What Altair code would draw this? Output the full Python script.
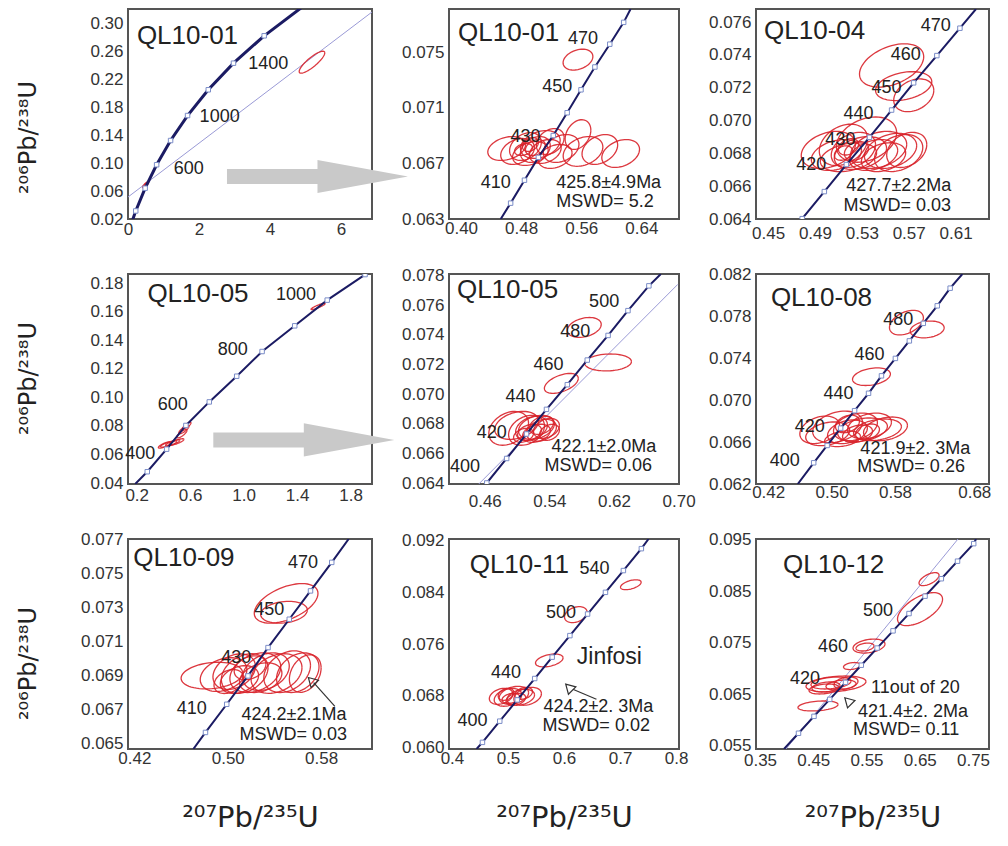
import numpy as np
import pandas as pd
import altair as alt

FONT = "Liberation Sans"
TITLE_FONT = "DejaVu Sans"
RED = "#d8222a"
NAVY = "#1b1b63"
MARKER = "#7b8dc8"
TXT = "#222222"
ENVC = "#9a9ad6"
ARROWC = "#c9c9c9"

X_TITLE = "²⁰⁷Pb/²³⁵U"
Y_TITLE = "²⁰⁶Pb/²³⁸U"

# ---------------- Panel 1 : QL10-01 (full range) ----------------
P1_XDOM = [0.0, 6.87]
P1_YDOM = [0.02, 0.32]
P1_XT = [0, 2, 4, 6]
P1_YT = [0.02, 0.06, 0.10, 0.14, 0.18, 0.22, 0.26, 0.30]
P1_AGE = [200, 400, 600, 800, 1000, 1200, 1400, 1600]
P1_CX = [0.218, 0.483, 0.806, 1.199, 1.677, 2.260, 2.970, 3.834]
P1_CY = [0.0315, 0.0640, 0.0975, 0.1321, 0.1678, 0.2046, 0.2426, 0.2817]
P1_START = (0.0, 0.0)
P1_END = (4.887, 0.3221)
P1_ENV = [(0.0, 0.0514), (6.87, 0.3157)]
P1_ELL = [(5.18, 0.244, 0.36, 0.0157, 0.85),
          (0.47, 0.068, 0.06, 0.0035, 0.8),
          (0.52, 0.070, 0.06, 0.0035, 0.8)]
P1_LAB = [("1400", 3.95, 0.2414), ("1000", 2.58, 0.1657), ("600", 1.71, 0.0914)]
P1_NAME = ("QL10-01", 0.25, 0.2814)
P1_RES = []
P1_ARROW = (5.335, 0.0807)

# ---------------- Panel 2 : QL10-01 (zoom) ----------------
P2_XDOM = [0.384, 0.690]
P2_YDOM = [0.063, 0.0781]
P2_XT = [0.40, 0.48, 0.56, 0.64]
P2_YT = [0.063, 0.067, 0.071, 0.075]
P2_AGE = [400, 410, 420, 430, 440, 450, 460, 470, 480]
P2_CX = [0.4660, 0.4844, 0.5029, 0.5227, 0.5412, 0.5596, 0.5781, 0.5979, 0.6164]
P2_CY = [0.06414, 0.06579, 0.06743, 0.06900, 0.07064, 0.07229, 0.07393, 0.07557, 0.07714]
P2_START = (0.4528, 0.063)
P2_END = (0.6256, 0.0781)
P2_ENV = []
P2_ELL = [(0.4607, 0.06807, 0.0251, 0.00086, 0.3), (0.4752, 0.06786, 0.0224, 0.00093, 0.3),
          (0.4857, 0.06821, 0.0211, 0.0010, 0.3), (0.4923, 0.06771, 0.0237, 0.00086, 0.3),
          (0.4989, 0.0680, 0.0198, 0.00093, 0.3), (0.5055, 0.06836, 0.0264, 0.0010, 0.3),
          (0.5121, 0.06786, 0.0211, 0.00086, 0.3), (0.5187, 0.06857, 0.0185, 0.00093, 0.3),
          (0.5253, 0.0675, 0.0224, 0.00086, 0.3), (0.5332, 0.06807, 0.0237, 0.0010, 0.3),
          (0.5556, 0.06907, 0.0171, 0.00107, 0.3), (0.5623, 0.06786, 0.0264, 0.00107, 0.3),
          (0.5847, 0.0680, 0.0237, 0.00107, 0.3), (0.6124, 0.06771, 0.0251, 0.0010, 0.3),
          (0.4923, 0.06836, 0.0106, 0.0005, 0.3), (0.4989, 0.06814, 0.0132, 0.00057, 0.3),
          (0.4831, 0.0680, 0.0119, 0.00043, 0.3), (0.5556, 0.07446, 0.0198, 0.00075, 0.3)]
P2_LAB = [("470", 0.5623, 0.07593), ("450", 0.528, 0.0725), ("430", 0.4858, 0.06893), ("410", 0.4462, 0.06557)]
P2_NAME = ("QL10-01", 0.396, 0.07636)
P2_RES = [("425.8±4.9Ma", 0.5266, 0.06560), ("MSWD= 5.2", 0.5266, 0.06425)]

# ---------------- Panel 3 : QL10-04 ----------------
P3_XDOM = [0.4397, 0.6385]
P3_YDOM = [0.064, 0.0768]
P3_XT = [0.45, 0.49, 0.53, 0.57, 0.61]
P3_YT = [0.064, 0.066, 0.068, 0.070, 0.072, 0.074, 0.076]
P3_AGE = [400, 410, 420, 430, 440, 450, 460, 470]
P3_CX = [0.4791, 0.4980, 0.5168, 0.5365, 0.5554, 0.5742, 0.5940, 0.6137]
P3_CY = [0.06402, 0.06567, 0.06732, 0.06898, 0.07064, 0.07230, 0.07396, 0.07563]
P3_START = (0.4783, 0.064)
P3_END = (0.6274, 0.0768)
P3_ENV = []
P3_ELL = [(0.5014, 0.06821, 0.0231, 0.00113, 0.3), (0.5083, 0.0679, 0.0214, 0.00094, 0.3),
          (0.5143, 0.06852, 0.0206, 0.00126, 0.3), (0.5186, 0.06777, 0.0240, 0.00088, 0.3),
          (0.5228, 0.06821, 0.0189, 0.00107, 0.3), (0.5288, 0.06802, 0.0223, 0.0010, 0.3),
          (0.5340, 0.06884, 0.0257, 0.00138, 0.3), (0.5400, 0.0679, 0.0206, 0.00094, 0.3),
          (0.5443, 0.06821, 0.024, 0.00113, 0.3), (0.5485, 0.06777, 0.0189, 0.00088, 0.3),
          (0.5545, 0.06815, 0.0223, 0.00107, 0.3), (0.5614, 0.06802, 0.0206, 0.00113, 0.3),
          (0.5683, 0.06821, 0.0171, 0.00107, 0.3), (0.5186, 0.0684, 0.0086, 0.0005, 0.3),
          (0.5254, 0.06815, 0.0103, 0.00057, 0.3), (0.5143, 0.06802, 0.0077, 0.00044, 0.3),
          (0.5554, 0.07336, 0.0274, 0.00132, 0.4), (0.5657, 0.0721, 0.024, 0.00088, 0.3),
          (0.5743, 0.07154, 0.0171, 0.001, 0.3)]
P3_LAB = [("470", 0.5931, 0.07575), ("460", 0.5674, 0.07399), ("450", 0.5511, 0.07198),
          ("440", 0.5271, 0.07041), ("430", 0.5117, 0.06884), ("420", 0.4868, 0.06727)]
P3_NAME = ("QL10-04", 0.4466, 0.07543)
P3_RES = [("427.7±2.2Ma", 0.5168, 0.06600), ("MSWD= 0.03", 0.5143, 0.06482)]

# ---------------- Panel 4 : QL10-05 (full range) ----------------
P4_XDOM = [0.135, 1.96]
P4_YDOM = [0.0393, 0.1864]
P4_XT = [0.2, 0.6, 1.0, 1.4, 1.8]
P4_YT = [0.04, 0.06, 0.08, 0.10, 0.12, 0.14, 0.16, 0.18]
P4_AGE = [300, 400, 500, 600, 700, 800, 900, 1000, 1100]
P4_CX = [0.279, 0.424, 0.568, 0.743, 0.948, 1.138, 1.382, 1.625, 1.908]
P4_CY = [0.0479, 0.0637, 0.0803, 0.0968, 0.1148, 0.1321, 0.1501, 0.1681, 0.1860]
P4_START = (0.189, 0.0393)
P4_END = (1.93, 0.1870)
P4_ENV = []
P4_ELL = [(0.439, 0.0673, 0.061, 0.0022, 0.8), (0.469, 0.0681, 0.053, 0.0022, 0.8),
          (0.408, 0.0666, 0.046, 0.0022, 0.8), (0.500, 0.0688, 0.053, 0.0022, 0.8),
          (0.553, 0.0774, 0.038, 0.0029, 0.8), (0.538, 0.0745, 0.038, 0.0029, 0.8),
          (0.576, 0.0803, 0.030, 0.0022, 0.8), (1.557, 0.1637, 0.053, 0.0022, 0.9)]
P4_LAB = [("1000", 1.392, 0.1717), ("800", 0.918, 0.1335), ("600", 0.469, 0.0947), ("400", 0.226, 0.0601)]
P4_NAME = ("QL10-05", 0.280, 0.1724)
P4_RES = []
P4_ARROW = (1.450, 0.0702)

# ---------------- Panel 5 : QL10-05 (zoom) ----------------
P5_XDOM = [0.4157, 0.7005]
P5_YDOM = [0.06395, 0.0781]
P5_XT = [0.46, 0.54, 0.62, 0.70]
P5_YT = [0.064, 0.066, 0.068, 0.070, 0.072, 0.074, 0.076, 0.078]
P5_AGE = [400, 410, 420, 430, 440, 450, 460, 470, 480]
P5_CX = [0.4625, 0.4871, 0.5117, 0.5364, 0.5622, 0.5869, 0.6127, 0.6373, 0.6632]
P5_CY = [0.06402, 0.06567, 0.06732, 0.06898, 0.07064, 0.0723, 0.07396, 0.07563, 0.0773]
P5_START = (0.4610, 0.06395)
P5_END = (0.678, 0.0781)
P5_ENV = [(0.4526, 0.06395), (0.699, 0.0774)]
P5_ELL = [(0.6127, 0.07214, 0.0289, 0.00057, 0.1), (0.5832, 0.0745, 0.021, 0.00067, 0.3),
          (0.5548, 0.07073, 0.021, 0.00067, 0.5), (0.4896, 0.0677, 0.0246, 0.00114, 0.3),
          (0.4994, 0.0679, 0.0271, 0.00094, 0.3), (0.5117, 0.06757, 0.0222, 0.00101, 0.3),
          (0.5179, 0.0677, 0.0197, 0.00081, 0.3), (0.5240, 0.06777, 0.0222, 0.00081, 0.3),
          (0.5302, 0.06757, 0.0185, 0.00074, 0.3), (0.5364, 0.0677, 0.016, 0.00067, 0.3),
          (0.5240, 0.06737, 0.0172, 0.00061, 0.3), (0.5154, 0.06743, 0.0148, 0.00054, 0.3),
          (0.5080, 0.06723, 0.0123, 0.00047, 0.3), (0.5302, 0.0679, 0.0148, 0.00061, 0.3),
          (0.5401, 0.06743, 0.0123, 0.00054, 0.3)]
P5_LAB = [("500", 0.6078, 0.07618), ("480", 0.5721, 0.07416), ("460", 0.5388, 0.07194),
          ("440", 0.5043, 0.06979), ("420", 0.4686, 0.06737), ("400", 0.4354, 0.06508)]
P5_NAME = ("QL10-05", 0.4255, 0.07699)
P5_RES = [("422.1±2.0Ma", 0.5425, 0.06645), ("MSWD= 0.06", 0.5339, 0.06518)]

# ---------------- Panel 6 : QL10-08 ----------------
P6_XDOM = [0.4046, 0.6986]
P6_YDOM = [0.0620, 0.0820]
P6_XT = [0.42, 0.50, 0.58, 0.68]
P6_YT = [0.062, 0.066, 0.070, 0.074, 0.078, 0.082]
P6_AGE = [400, 410, 420, 430, 440, 450, 460, 470, 480, 490, 500]
P6_CX = [0.4774, 0.4944, 0.5114, 0.5290, 0.5466, 0.5629, 0.5805, 0.5981, 0.6157, 0.6333, 0.6496]
P6_CY = [0.06402, 0.06567, 0.06732, 0.06898, 0.07064, 0.0723, 0.07396, 0.07563, 0.0773, 0.07897, 0.08065]
P6_START = (0.4573, 0.0620)
P6_END = (0.665, 0.0820)
P6_ENV = []
P6_ELL = [(0.5944, 0.07737, 0.0214, 0.00117, 0.4), (0.6206, 0.07672, 0.0214, 0.0008, 0.2),
          (0.5503, 0.07222, 0.0239, 0.00084, 0.3), (0.4850, 0.06716, 0.0251, 0.00131, 0.3),
          (0.4950, 0.06678, 0.0277, 0.00113, 0.3), (0.5075, 0.06744, 0.0314, 0.0015, 0.3),
          (0.5200, 0.06697, 0.0251, 0.00113, 0.3), (0.5301, 0.06744, 0.0277, 0.00131, 0.3),
          (0.5390, 0.06716, 0.0314, 0.00113, 0.3), (0.5478, 0.06753, 0.0277, 0.00122, 0.3),
          (0.5579, 0.06716, 0.0302, 0.00103, 0.3), (0.5680, 0.06725, 0.0277, 0.00113, 0.3),
          (0.5138, 0.06631, 0.0226, 0.00075, 0.3), (0.5327, 0.06678, 0.0189, 0.00084, 0.3),
          (0.5200, 0.06772, 0.0151, 0.00084, 0.3), (0.5453, 0.06697, 0.0151, 0.00075, 0.3)]
P6_LAB = [("480", 0.5842, 0.07766), ("460", 0.5478, 0.07428), ("440", 0.5088, 0.07053),
          ("420", 0.4724, 0.06744), ("400", 0.4410, 0.06416)]
P6_NAME = ("QL10-08", 0.4234, 0.07972)
P6_RES = [("421.9±2. 3Ma", 0.5363, 0.06535), ("MSWD= 0.26", 0.5325, 0.06362)]

# ---------------- Panel 7 : QL10-09 ----------------
P7_XDOM = [0.4145, 0.6236]
P7_YDOM = [0.0647, 0.0770]
P7_XT = [0.42, 0.50, 0.58]
P7_YT = [0.065, 0.067, 0.069, 0.071, 0.073, 0.075, 0.077]
P7_AGE = [410, 420, 430, 440, 450, 460, 470]
P7_CX = [0.4809, 0.4991, 0.5173, 0.5345, 0.5527, 0.5709, 0.5891]
P7_CY = [0.06567, 0.06732, 0.06898, 0.07064, 0.0723, 0.07396, 0.07563]
P7_START = (0.4705, 0.0647)
P7_END = (0.6036, 0.0770)
P7_ENV = []
P7_ELL = [(0.5500, 0.07323, 0.0273, 0.00116, 0.5), (0.5482, 0.07271, 0.02, 0.00064, 0.2),
          (0.4864, 0.069, 0.0264, 0.00078, 0.2), (0.4964, 0.06906, 0.02, 0.00099, 0.3),
          (0.5055, 0.06923, 0.0182, 0.00104, 0.3), (0.5145, 0.06912, 0.02, 0.00116, 0.3),
          (0.5236, 0.06917, 0.0218, 0.00116, 0.3), (0.5327, 0.06923, 0.02, 0.0011, 0.3),
          (0.5418, 0.06912, 0.0218, 0.00116, 0.3), (0.5509, 0.06923, 0.02, 0.00122, 0.3),
          (0.5600, 0.06917, 0.0182, 0.00116, 0.3), (0.5664, 0.06912, 0.0136, 0.0011, 0.3),
          (0.5100, 0.06877, 0.0164, 0.00081, 0.3), (0.5282, 0.06888, 0.0182, 0.00087, 0.3),
          (0.5191, 0.06946, 0.0136, 0.0007, 0.3), (0.5009, 0.06865, 0.0127, 0.0007, 0.3)]
P7_LAB = [("470", 0.5645, 0.07561), ("450", 0.5355, 0.07283), ("430", 0.5073, 0.07004), ("410", 0.4691, 0.06703)]
P7_NAME = ("QL10-09", 0.4191, 0.0759)
P7_RES = [("424.2±2.1Ma", 0.5118, 0.06672), ("MSWD= 0.03", 0.5100, 0.06552)]
P7_PTR_LINE = [(0.5918, 0.0672), (0.5736, 0.06859)]
P7_PTR_TRI = (0.5718, 0.06870)

# ---------------- Panel 8 : QL10-11 ----------------
P8_XDOM = [0.3947, 0.8053]
P8_YDOM = [0.0597, 0.0923]
P8_XT = [0.4, 0.5, 0.6, 0.7, 0.8]
P8_YT = [0.060, 0.068, 0.076, 0.084, 0.092]
P8_AGE = [380, 400, 420, 440, 460, 480, 500, 520, 540, 560]
P8_CX = [0.4544, 0.4853, 0.5165, 0.5477, 0.5789, 0.6105, 0.6421, 0.6740, 0.7060, 0.7381]
P8_CY = [0.06073, 0.06402, 0.06732, 0.07064, 0.07396, 0.0773, 0.08065, 0.08402, 0.0874, 0.0908]
P8_START = (0.4439, 0.0597)
P8_END = (0.7509, 0.0923)
P8_ENV = []
P8_ELL = [(0.7193, 0.0852, 0.0184, 0.00077, 0.5), (0.6211, 0.08056, 0.0202, 0.00124, 0.3),
          (0.5737, 0.07345, 0.0246, 0.001, 0.4), (0.4877, 0.06788, 0.021, 0.00124, 0.3),
          (0.5000, 0.06773, 0.0246, 0.00139, 0.3), (0.5105, 0.06804, 0.0263, 0.00139, 0.3),
          (0.5228, 0.06773, 0.0246, 0.00124, 0.3), (0.5351, 0.06788, 0.0246, 0.00139, 0.3),
          (0.5140, 0.06742, 0.0175, 0.00093, 0.3), (0.4965, 0.06819, 0.014, 0.00093, 0.3),
          (0.5280, 0.06835, 0.0158, 0.00093, 0.3), (0.5052, 0.06757, 0.0158, 0.00077, 0.3)]
P8_LAB = [("540", 0.6544, 0.08767), ("500", 0.5947, 0.08087), ("440", 0.4965, 0.07144), ("400", 0.4368, 0.06402)]
P8_NAME = ("QL10-11", 0.4316, 0.08829)
P8_PLACE = ("Jinfosi", 0.6228, 0.07391)
P8_RES = [("424.2±2. 3Ma", 0.5632, 0.06628), ("MSWD= 0.02", 0.5614, 0.0633)]
P8_PTR_LINE = [(0.6158, 0.06897), (0.6579, 0.06742)]
P8_PTR_TRI = (0.6088, 0.06927)

# ---------------- Panel 9 : QL10-12 ----------------
P9_XDOM = [0.3425, 0.780]
P9_YDOM = [0.0544, 0.0951]
P9_XT = [0.35, 0.45, 0.55, 0.65, 0.75]
P9_YT = [0.055, 0.065, 0.075, 0.085, 0.095]
P9_AGE = [360, 380, 400, 420, 440, 460, 480, 500, 520, 540, 560, 580]
P9_CX = [0.4223, 0.4514, 0.4809, 0.5106, 0.5402, 0.5699, 0.5998, 0.6298, 0.6599, 0.6905, 0.7209, 0.7513]
P9_CY = [0.05745, 0.06073, 0.06402, 0.06732, 0.07064, 0.07396, 0.0773, 0.08065, 0.08402, 0.0874, 0.0908, 0.0942]
P9_START = (0.3951, 0.0544)
P9_END = (0.7556, 0.0951)
P9_ENV = [(0.3988, 0.0544), (0.7218, 0.0951)]
P9_ELL = [(0.6674, 0.08732, 0.0188, 0.00126, 0.6), (0.6505, 0.08151, 0.0423, 0.0032, 0.6),
          (0.5547, 0.07435, 0.03, 0.00135, 0.3), (0.5472, 0.07416, 0.0169, 0.00077, 0.3),
          (0.5228, 0.07048, 0.016, 0.00068, 0.3), (0.4927, 0.067, 0.0563, 0.00155, 0.3),
          (0.4833, 0.06719, 0.0376, 0.00116, 0.3), (0.5021, 0.0668, 0.0282, 0.00097, 0.3),
          (0.5115, 0.06719, 0.0225, 0.00116, 0.3), (0.4740, 0.06642, 0.0263, 0.00097, 0.3),
          (0.4702, 0.06603, 0.0282, 0.00097, 0.3), (0.4589, 0.06274, 0.0376, 0.00097, 0.3)]
P9_LAB = [("500", 0.5716, 0.08113), ("460", 0.4871, 0.07416), ("420", 0.4345, 0.06797)]
P9_NAME = ("QL10-12", 0.3932, 0.09003)
P9_RES = [("11out of 20", 0.5585, 0.06615), ("421.4±2. 2Ma", 0.5340, 0.06158), ("MSWD= 0.11", 0.5247, 0.0580)]
P9_PTR_TRI = (0.5153, 0.06371)

# ---------------- layout ----------------
COL_W = [244, 230, 233]
ROW_H = 210
XLAB_PAD = [2.5, 1.5, 6.5, 3.5, 9.5, 0, 1.5, 1.5, 3.5]
YTITLE_Y = [128, 104, 124]

ARROW_PATH = "M-1,-0.083L0,-0.083L0,-0.183L1,0L0,0.183L0,0.083L-1,0.083Z"
ARROW_LEN = 181


def ellipse_df(ells):
    t = np.linspace(0, 2 * np.pi, 61)
    rows = []
    for i, (cx, cy, hx, hy, r) in enumerate(ells):
        xs = cx + hx * np.cos(t)
        ys = cy + hy * (r * np.cos(t) + np.sqrt(1 - r * r) * np.sin(t))
        for k in range(len(t)):
            rows.append({"x": float(xs[k]), "y": float(ys[k]), "e": i, "k": k})
    return pd.DataFrame(rows)


def panel(idx, xdom, ydom, xt, yt, xf, yf, age, cx, cy, start, end, env, ells,
          labs, name, res, arrow=None, ptr_line=None, ptr_tri=None, place=None):
    row, col = divmod(idx, 3)
    xax = dict(values=xt, format=xf, labelFlush=False, labelOverlap=False,
               labelPadding=XLAB_PAD[idx])
    if row == 2:
        xax.update(title=X_TITLE, titleFont=TITLE_FONT, titleFontSize=29, titleY=68,
                   titleBaseline="middle")
    else:
        xax.update(title=None)
    yax = dict(values=yt, format=yf, labelFlush=False, labelOverlap=False, labelPadding=5)
    if col == 0:
        yax.update(title=Y_TITLE, titleFont=TITLE_FONT, titleFontSize=24, titleX=-100,
                   titleY=YTITLE_Y[row], titleAngle=270, titleBaseline="middle", titleAlign="center")
    else:
        yax.update(title=None)
    X = alt.X("x:Q", scale=alt.Scale(domain=xdom, nice=False, zero=False), axis=alt.Axis(**xax))
    Y = alt.Y("y:Q", scale=alt.Scale(domain=ydom, nice=False, zero=False), axis=alt.Axis(**yax))

    layers = []
    if env:
        layers.append(alt.Chart(pd.DataFrame({"x": [p[0] for p in env], "y": [p[1] for p in env]}))
                      .mark_line(clip=True, color=ENVC, strokeWidth=1).encode(x=X, y=Y))
    layers.append(alt.Chart(ellipse_df(ells)).mark_line(clip=True, color=RED, strokeWidth=1.3, opacity=0.9)
                  .encode(x=X, y=Y, detail="e:N", order="k:Q"))
    line_df = pd.DataFrame({"x": [start[0]] + cx + [end[0]], "y": [start[1]] + cy + [end[1]],
                            "k": list(range(len(cx) + 2))})
    layers.append(alt.Chart(line_df).mark_line(clip=True, color=NAVY,
                                               strokeWidth=3 if idx == 0 else 2)
                  .encode(x=X, y=Y, order="k:Q"))
    layers.append(alt.Chart(pd.DataFrame({"x": cx, "y": cy, "age": age}))
                  .mark_point(shape="square", filled=True, fill="white", stroke=MARKER,
                              strokeWidth=1, size=20, opacity=1, clip=True)
                  .encode(x=X, y=Y))
    layers.append(alt.Chart(pd.DataFrame({"t": [l[0] for l in labs], "x": [l[1] for l in labs],
                                          "y": [l[2] for l in labs]}))
                  .mark_text(font=FONT, fontSize=18, color=TXT, align="center", baseline="middle")
                  .encode(x=X, y=Y, text="t:N"))
    layers.append(alt.Chart(pd.DataFrame({"t": [name[0]], "x": [name[1]], "y": [name[2]]}))
                  .mark_text(font=FONT, fontSize=26, color=TXT, align="left", baseline="middle")
                  .encode(x=X, y=Y, text="t:N"))
    if res:
        layers.append(alt.Chart(pd.DataFrame({"t": [r[0] for r in res], "x": [r[1] for r in res],
                                              "y": [r[2] for r in res]}))
                      .mark_text(font=FONT, fontSize=18, color=TXT, align="left", baseline="middle")
                      .encode(x=X, y=Y, text="t:N"))
    if place:
        layers.append(alt.Chart(pd.DataFrame({"t": [place[0]], "x": [place[1]], "y": [place[2]]}))
                      .mark_text(font=FONT, fontSize=23, color=TXT, align="left", baseline="middle")
                      .encode(x=X, y=Y, text="t:N"))
    if ptr_line:
        layers.append(alt.Chart(pd.DataFrame({"x": [p[0] for p in ptr_line], "y": [p[1] for p in ptr_line]}))
                      .mark_line(color="#333333", strokeWidth=1.2).encode(x=X, y=Y))
    if ptr_tri:
        layers.append(alt.Chart(pd.DataFrame({"x": [ptr_tri[0]], "y": [ptr_tri[1]]}))
                      .mark_point(shape="triangle-up", angle=315, filled=False, stroke="#333333",
                                  strokeWidth=1.2, size=110, opacity=1)
                      .encode(x=X, y=Y))
    if arrow:
        layers.append(alt.Chart(pd.DataFrame({"x": [arrow[0]], "y": [arrow[1]]}))
                      .mark_point(shape=ARROW_PATH, size=ARROW_LEN ** 2, filled=True,
                                  color=ARROWC, opacity=1, strokeWidth=0)
                      .encode(x=X, y=Y))
    return alt.layer(*layers).properties(width=COL_W[col], height=ROW_H)


charts = [
    panel(0, P1_XDOM, P1_YDOM, P1_XT, P1_YT, "d", ".2f", P1_AGE, P1_CX, P1_CY, P1_START, P1_END,
          P1_ENV, P1_ELL, P1_LAB, P1_NAME, P1_RES, arrow=P1_ARROW),
    panel(1, P2_XDOM, P2_YDOM, P2_XT, P2_YT, ".2f", ".3f", P2_AGE, P2_CX, P2_CY, P2_START, P2_END,
          P2_ENV, P2_ELL, P2_LAB, P2_NAME, P2_RES),
    panel(2, P3_XDOM, P3_YDOM, P3_XT, P3_YT, ".2f", ".3f", P3_AGE, P3_CX, P3_CY, P3_START, P3_END,
          P3_ENV, P3_ELL, P3_LAB, P3_NAME, P3_RES),
    panel(3, P4_XDOM, P4_YDOM, P4_XT, P4_YT, ".1f", ".2f", P4_AGE, P4_CX, P4_CY, P4_START, P4_END,
          P4_ENV, P4_ELL, P4_LAB, P4_NAME, P4_RES, arrow=P4_ARROW),
    panel(4, P5_XDOM, P5_YDOM, P5_XT, P5_YT, ".2f", ".3f", P5_AGE, P5_CX, P5_CY, P5_START, P5_END,
          P5_ENV, P5_ELL, P5_LAB, P5_NAME, P5_RES),
    panel(5, P6_XDOM, P6_YDOM, P6_XT, P6_YT, ".2f", ".3f", P6_AGE, P6_CX, P6_CY, P6_START, P6_END,
          P6_ENV, P6_ELL, P6_LAB, P6_NAME, P6_RES),
    panel(6, P7_XDOM, P7_YDOM, P7_XT, P7_YT, ".2f", ".3f", P7_AGE, P7_CX, P7_CY, P7_START, P7_END,
          P7_ENV, P7_ELL, P7_LAB, P7_NAME, P7_RES, ptr_line=P7_PTR_LINE, ptr_tri=P7_PTR_TRI),
    panel(7, P8_XDOM, P8_YDOM, P8_XT, P8_YT, ".1f", ".3f", P8_AGE, P8_CX, P8_CY, P8_START, P8_END,
          P8_ENV, P8_ELL, P8_LAB, P8_NAME, P8_RES, ptr_line=P8_PTR_LINE, ptr_tri=P8_PTR_TRI,
          place=P8_PLACE),
    panel(8, P9_XDOM, P9_YDOM, P9_XT, P9_YT, ".2f", ".3f", P9_AGE, P9_CX, P9_CY, P9_START, P9_END,
          P9_ENV, P9_ELL, P9_LAB, P9_NAME, P9_RES, ptr_tri=P9_PTR_TRI),
]

chart = (
    alt.concat(*charts, columns=3, spacing={"row": 55, "column": 77}, bounds="flush", align="each")
    .properties(padding={"left": 7, "top": 0, "right": 5, "bottom": 5}, background="white")
    .configure_axis(labelFont=FONT, labelFontSize=17, labelColor="#333333", ticks=False,
                    domain=False, grid=False, titleFontWeight="normal", titleColor=TXT)
    .configure_view(stroke="#555555", strokeWidth=2)
)

chart.save("out.html", embed_options={"renderer": "svg", "actions": False})
